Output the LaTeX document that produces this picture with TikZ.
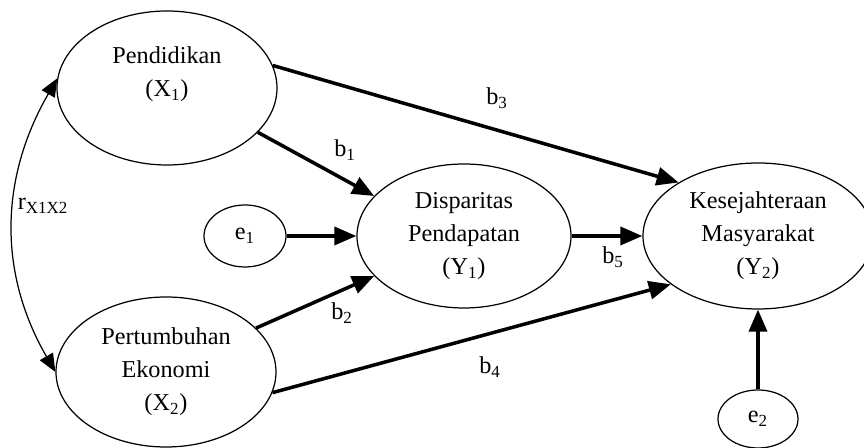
\documentclass[tikz,border=0pt]{standalone}
\usepackage{fontspec}
\setmainfont{Liberation Serif}
\usetikzlibrary{shapes.geometric,arrows.meta}

\begin{document}
\begin{tikzpicture}[
  font=\fontsize{13.8}{18.7}\selectfont,
  var/.style={draw,ellipse,line width=0.7pt,inner sep=0pt,align=center},
  path/.style={line width=2pt,-{Triangle[length=0.44cm,width=0.36cm]}},
  corr/.style={line width=0.7pt,{Triangle[length=0.36cm,width=0.3cm]}-{Triangle[length=0.36cm,width=0.3cm]}}
]
\useasboundingbox (0,0) rectangle (17.28,8.96);

 \node[var,minimum width=4.4cm,minimum height=3.08cm] (x1) at (3.34,7.20) {Pendidikan\\(X\textsubscript{1})\\\mbox{}};
 \node[var,minimum width=4.4cm,minimum height=3.0cm] (x2) at (3.32,1.52) {Pertumbuhan\\Ekonomi\\(X\textsubscript{2})};
 \node[var,minimum width=4.28cm,minimum height=2.88cm] (y1) at (9.28,4.24) {Disparitas\\Pendapatan\\(Y\textsubscript{1})};
 \node[var,minimum width=4.6cm,minimum height=2.92cm] (y2) at (15.16,4.24) {Kesejahteraan\\Masyarakat\\(Y\textsubscript{2})};
 \node[var,minimum width=1.64cm,minimum height=1.24cm] (e1) at (4.90,4.24) {e\textsubscript{1}};
 \node[var,minimum width=1.6cm,minimum height=1.16cm] (e2) at (15.16,0.58) {e\textsubscript{2}};

 % korelasi X1 - X2
 \draw[corr] (x1.175) to[out=240,in=120] (x2.180);
 \node (r12) at (0.86,4.84) {r\textsubscript{X1X2}};

 % jalur
 \draw[path] (x1.-26) -- (y1.156);
 \draw[path] (x1.12) -- (y2.146);
 \draw[path] (e1.east) -- (y1.west);
 \draw[path] (x2.26) -- (y1.204);
 \draw[path] (x2.-11) -- (y2.209);
 \draw[path] (y1.east) -- (y2.west);
 \draw[path] (e2.north) -- (y2.south);

 \node (b1) at (6.90,5.96) {b\textsubscript{1}};
 \node (b2) at (6.84,2.70) {b\textsubscript{2}};
 \node (b3) at (9.94,7.00) {b\textsubscript{3}};
 \node (b4) at (9.80,1.62) {b\textsubscript{4}};
 \node (b5) at (12.26,3.82) {b\textsubscript{5}};
\end{tikzpicture}
\end{document}
